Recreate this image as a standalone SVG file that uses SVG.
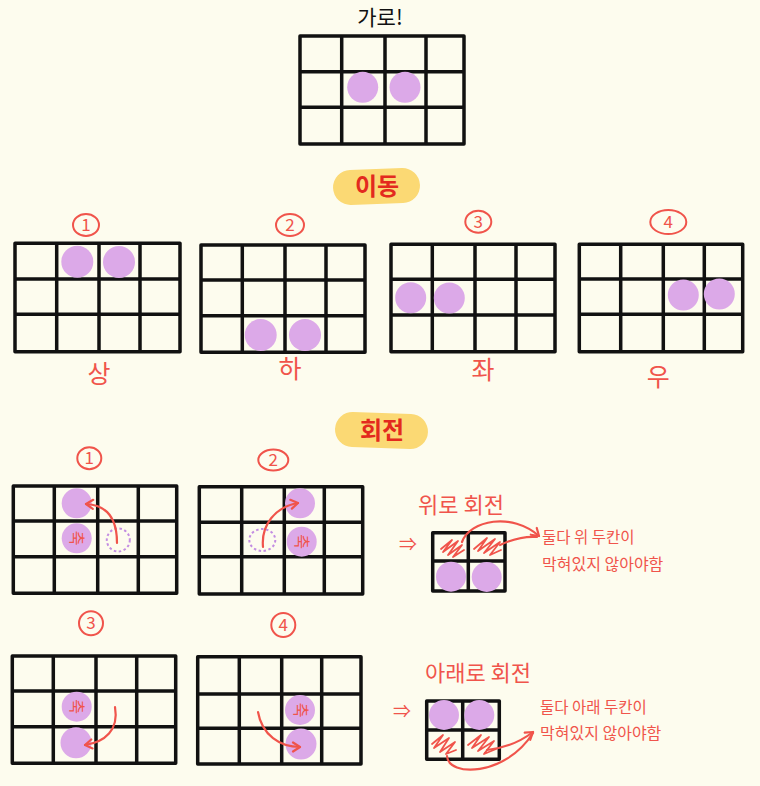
<svg xmlns="http://www.w3.org/2000/svg" width="760" height="786" viewBox="0 0 760 786">
<defs>
<style>
.bg{fill:#fdfcee}
.grid{fill:none;stroke:#111;stroke-width:3.5;stroke-linejoin:round}
.dot{fill:#dca9e8}
.dash{fill:none;stroke:#c38de2;stroke-width:2;stroke-dasharray:2.5 2.5}
.t{font-family:"Noto Sans CJK KR","Noto Sans",sans-serif}
.lbl{fill:#f0544b;text-anchor:middle}
.hl{fill:#e32a1e;font-weight:700;text-anchor:middle;font-size:24px}
.blob{fill:#fbd974}
.num{fill:none;stroke:#f0544b;stroke-width:2}
.numt{fill:#f0544b;text-anchor:middle;font-size:17px}
.axis{fill:#f0544b;text-anchor:middle;font-size:16px}
.arr{fill:none;stroke:#f0544b;stroke-width:2.2;stroke-linecap:round}
.scr{fill:none;stroke:#f0544b;stroke-width:1.8;stroke-linejoin:round;stroke-linecap:round}
</style>
<marker id="ah" viewBox="0 0 12 12" refX="9" refY="6" markerWidth="12" markerHeight="12" orient="auto" markerUnits="userSpaceOnUse">
<path d="M2,1.5 L9,6 L2,10.5" fill="none" stroke="#f0544b" stroke-width="2.2" stroke-linecap="round" stroke-linejoin="round"/>
</marker>
</defs>
<rect class="bg" x="0" y="0" width="760" height="786"/>

<g id="title">
<text class="t" x="380" y="25" font-size="21" text-anchor="middle" fill="#111">가로!</text>
</g>
<g id="grid-top">
<path class="grid" d="M300,36H464V144H300Z M341.7,36V144 M385,36V144 M426,36V144 M300,71.7H464 M300,107.3H464"/>
<circle class="dot" cx="362.7" cy="87.3" r="15.5"/>
<circle class="dot" cx="405" cy="87.3" r="15.5"/>
</g>

<g id="label-move">
<rect class="blob" x="333" y="169" width="87" height="35" rx="17.5" transform="rotate(-2 376 186)"/>
<text class="t hl" x="377" y="195">이동</text>
</g>

<g id="move-1">
<ellipse class="num" cx="86" cy="225" rx="13" ry="11"/>
<text class="t numt" x="86" y="231">1</text>
<path class="grid" d="M15,243.3H180V351.7H15Z M56.7,243.3V351.7 M99,243.3V351.7 M140,243.3V351.7 M15,279H180 M15,314.3H180"/>
<circle class="dot" cx="77.3" cy="261.7" r="16"/>
<circle class="dot" cx="119" cy="262" r="16"/>
<text class="t lbl" x="99" y="383" font-size="25">상</text>
</g>

<g id="move-2">
<ellipse class="num" cx="290" cy="225" rx="14" ry="11"/>
<text class="t numt" x="290" y="231">2</text>
<path class="grid" d="M201,245H365V352.3H201Z M242.3,245V352.3 M285,245V352.3 M326,245V352.3 M201,280H365 M201,315.7H365"/>
<circle class="dot" cx="260.7" cy="335" r="16"/>
<circle class="dot" cx="305" cy="335" r="16"/>
<text class="t lbl" x="290" y="378" font-size="25">하</text>
</g>

<g id="move-3">
<ellipse class="num" cx="478.3" cy="221.7" rx="13" ry="11"/>
<text class="t numt" x="478.3" y="227.5">3</text>
<path class="grid" d="M391,244.3H555V351.7H391Z M432.3,244.3V351.7 M475,244.3V351.7 M516,244.3V351.7 M391,279.3H555 M391,315H555"/>
<circle class="dot" cx="410.7" cy="297.7" r="15.5"/>
<circle class="dot" cx="449.3" cy="298" r="15.5"/>
<text class="t lbl" x="483" y="379" font-size="25">좌</text>
</g>

<g id="move-4">
<ellipse class="num" cx="668.3" cy="222" rx="18" ry="12"/>
<text class="t numt" x="668.3" y="228">4</text>
<path class="grid" d="M579.3,244.3H742.7V351.7H579.3Z M620.7,244.3V351.7 M663.3,244.3V351.7 M704.3,244.3V351.7 M579.3,279H742.7 M579.3,314.3H742.7"/>
<circle class="dot" cx="683.3" cy="295" r="15.5"/>
<circle class="dot" cx="719.3" cy="294" r="15.5"/>
<text class="t lbl" x="658.3" y="386" font-size="25">우</text>
</g>

<g id="label-rotate">
<rect class="blob" x="335" y="413" width="93" height="35" rx="17.5" transform="rotate(2 381 430)"/>
<text class="t hl" x="382" y="439">회전</text>
</g>

<g id="rot-1">
<ellipse class="num" cx="89.3" cy="458.3" rx="12" ry="11"/>
<text class="t numt" x="89.3" y="464">1</text>
<path class="grid" d="M13.3,486H176.7V593.3H13.3Z M54.3,486V593.3 M97.7,486V593.3 M138.3,486V593.3 M13.3,521H176.7 M13.3,556.7H176.7"/>
<circle class="dot" cx="76.7" cy="503.3" r="15"/>
<circle class="dot" cx="76.7" cy="538.3" r="15"/>
<circle class="dash" cx="118.3" cy="540" r="11.5"/>
<text class="t axis" x="76.7" y="543.5" transform="rotate(90 76.7 538)">축</text>
</g>

<g id="rot-2">
<ellipse class="num" cx="273.3" cy="460" rx="15" ry="10.5"/>
<text class="t numt" x="273.3" y="466">2</text>
<path class="grid" d="M199.3,486.7H362.7V594H199.3Z M241.7,486.7V594 M284.3,486.7V594 M324.3,486.7V594 M199.3,522.3H362.7 M199.3,556.7H362.7"/>
<circle class="dot" cx="300" cy="503.3" r="15"/>
<circle class="dot" cx="301.7" cy="541.7" r="15"/>
<ellipse class="dash" cx="262.3" cy="540" rx="13" ry="11"/>
<text class="t axis" x="301.7" y="547.2" transform="rotate(90 301.7 541.7)">축</text>
</g>

<g id="rot-3">
<ellipse class="num" cx="91" cy="623.3" rx="12" ry="12"/>
<text class="t numt" x="91" y="629">3</text>
<path class="grid" d="M12.3,656H175.7V763.3H12.3Z M53.3,656V763.3 M96,656V763.3 M136.7,656V763.3 M12.3,691H175.7 M12.3,726.7H175.7"/>
<circle class="dot" cx="76.7" cy="706.7" r="15"/>
<circle class="dot" cx="76" cy="742.7" r="15.5"/>
<text class="t axis" x="76.7" y="712.2" transform="rotate(90 76.7 706.7)">축</text>
</g>

<g id="rot-4">
<ellipse class="num" cx="283.3" cy="625" rx="12" ry="12"/>
<text class="t numt" x="283.3" y="631">4</text>
<path class="grid" d="M197.7,656.7H361V764H197.7Z M239.3,656.7V764 M281.7,656.7V764 M321.7,656.7V764 M197.7,694H361 M197.7,728.3H361"/>
<circle class="dot" cx="300" cy="710" r="15"/>
<circle class="dot" cx="301" cy="744" r="15.5"/>
<text class="t axis" x="300" y="715.5" transform="rotate(90 300 710)">축</text>
</g>

<g id="rotate-up-note">
<text class="t lbl" x="461" y="513" font-size="22">위로 회전</text>
<text class="t" x="408" y="551" font-size="18" fill="#f0544b" text-anchor="middle">⇒</text>
<path class="grid" d="M432.7,532.7H505V591H432.7Z M468.3,532.7V591 M432.7,561H505" stroke-width="3"/>
<circle class="dot" cx="451" cy="576.7" r="15"/>
<circle class="dot" cx="486.7" cy="577" r="15"/>
<path class="scr" d="M441,549 L452,540 L443,552 L458,541 L448,555 L462,545 L453,557 L464,550"/>
<path class="scr" d="M474,549 L487,538 L478,551 L495,539 L484,553 L500,542 L490,555 L501,550"/>
<text class="t" x="542" y="543" font-size="15.5" fill="#f0544b">둘다 위 두칸이</text>
<text class="t" x="542" y="570" font-size="16" fill="#f0544b">막혀있지 않아야함</text>
</g>

<g id="rotate-down-note">
<text class="t lbl" x="478" y="681" font-size="22">아래로 회전</text>
<text class="t" x="402" y="718" font-size="18" fill="#f0544b" text-anchor="middle">⇒</text>
<path class="grid" d="M426.7,701H499.3V759.3H426.7Z M462.7,701V759.3 M426.7,730H499.3" stroke-width="3"/>
<circle class="dot" cx="444" cy="715" r="15"/>
<circle class="dot" cx="479.3" cy="715" r="15"/>
<path class="scr" d="M432,744 L443,735 L434,748 L449,738 L440,752 L455,742 L446,754 L456,750"/>
<path class="scr" d="M468,745 L481,735 L472,748 L489,737 L478,751 L494,741 L484,754 L496,749"/>
<text class="t" x="540" y="713" font-size="15.5" fill="#f0544b">둘다 아래 두칸이</text>
<text class="t" x="540" y="739" font-size="16" fill="#f0544b">막혀있지 않아야함</text>
</g>

<g id="connectors">
<path class="arr" d="M117,543 C117,520 108,505 86,504" marker-end="url(#ah)"/>
<path class="arr" d="M263,547 C261,525 275,507 298,503" marker-end="url(#ah)"/>
<path class="arr" d="M115,707 C119,730 105,742 85,745" marker-end="url(#ah)"/>
<path class="arr" d="M258,712 C262,735 280,747 300,747" marker-end="url(#ah)"/>
<path class="arr" d="M462,542 C470,520 512,512 539,536" marker-end="url(#ah)"/>
<path class="arr" d="M500,545 C515,538 525,536 537,537"/>
<path class="arr" d="M487,750 C505,748 520,742 533,732" marker-end="url(#ah)"/>
<path class="arr" d="M447,756 C448,777 505,777 533,733"/>
</g>
</svg>
